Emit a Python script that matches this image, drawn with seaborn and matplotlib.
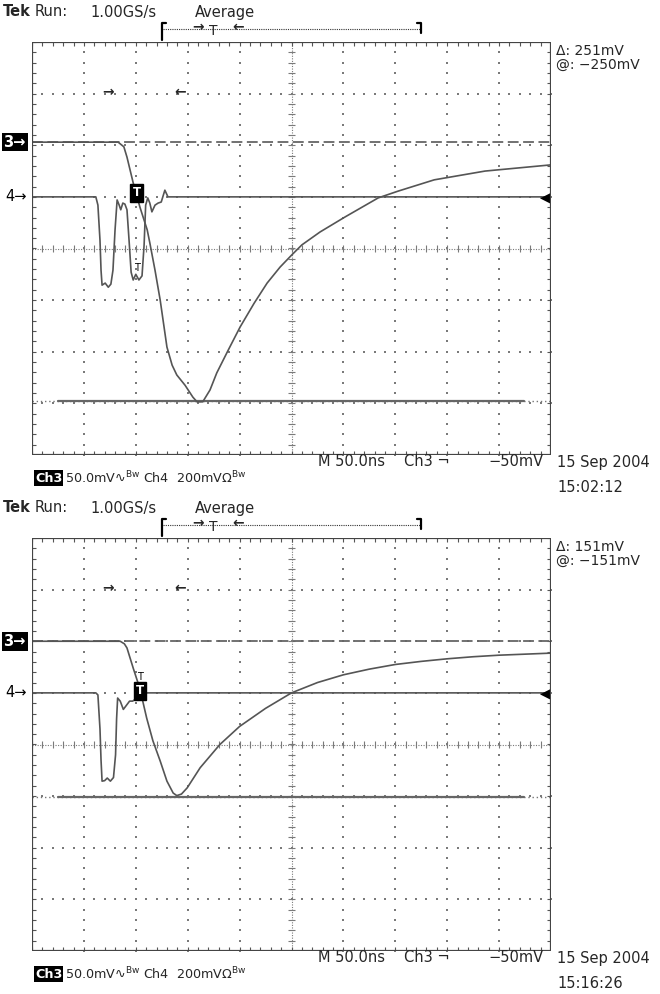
import numpy as np
import matplotlib
matplotlib.use("Agg")
import matplotlib.pyplot as plt
import seaborn as sns
from matplotlib.patches import Rectangle

# screen units are divisions: x -5..5 (50 ns/div), y -4..4
top_ch3_x = [-5.0, -3.34, -3.23, -3.17, -3.05, -2.92, -2.78, -2.73, -2.63, -2.53, -2.40, -2.30,
             -2.21, -2.05, -1.90, -1.82, -1.71, -1.57, -1.44, -1.22, -0.99, -0.72, -0.47, -0.22,
             0.0, 0.20, 0.55, 1.03, 1.67, 2.05, 2.75, 3.73, 5.0]
top_ch3_y = [2.06, 2.06, 1.97, 1.77, 1.27, 0.80, 0.36, 0.11, -0.42, -1.00, -1.91, -2.26,
             -2.45, -2.65, -2.88, -2.97, -2.97, -2.74, -2.41, -1.97, -1.52, -1.06, -0.67, -0.36,
             -0.13, 0.07, 0.32, 0.61, 0.98, 1.11, 1.33, 1.50, 1.62]
top_ch4_x = [-5.0, -3.77, -3.73, -3.69, -3.67, -3.65, -3.59, -3.53, -3.48, -3.44, -3.40, -3.36,
             -3.32, -3.29, -3.25, -3.21, -3.17, -3.13, -3.09, -3.05, -3.00, -2.94, -2.88, -2.84,
             -2.81, -2.77, -2.73, -2.69, -2.63, -2.57, -2.51, -2.44, -2.38, 5.0]
top_ch4_y = [1.0, 1.0, 0.84, 0.16, -0.42, -0.71, -0.67, -0.75, -0.69, -0.42, 0.36, 0.94,
             0.84, 0.75, 0.88, 0.86, 0.75, 0.16, -0.46, -0.61, -0.50, -0.61, -0.53, 0.07,
             0.84, 0.98, 0.88, 0.71, 0.84, 0.88, 0.90, 1.13, 1.0, 1.0]

bot_ch3_x = [-5.0, -3.30, -3.22, -3.17, -3.05, -2.95, -2.88, -2.79, -2.67, -2.53, -2.40, -2.28,
             -2.21, -2.12, -2.01, -1.76, -1.38, -1.0, -0.5, 0.0, 0.5, 1.0, 1.5, 2.0, 2.5, 3.0,
             3.5, 4.0, 4.5, 5.0]
bot_ch3_y = [2.0, 2.0, 1.95, 1.87, 1.48, 1.17, 0.90, 0.51, 0.07, -0.32, -0.71, -0.94,
             -0.99, -0.96, -0.84, -0.45, 0.0, 0.35, 0.70, 1.0, 1.20, 1.35, 1.46, 1.55, 1.61, 1.66,
             1.70, 1.73, 1.75, 1.77]
bot_ch4_x = [-5.0, -3.77, -3.73, -3.69, -3.67, -3.65, -3.60, -3.55, -3.49, -3.43, -3.39, -3.37,
             -3.35, -3.30, -3.24, -3.18, -3.12, -3.06, -2.98, -2.88, -2.78, 5.0]
bot_ch4_y = [1.0, 1.0, 0.96, 0.30, -0.30, -0.71, -0.70, -0.65, -0.71, -0.64, -0.20, 0.50,
             0.90, 0.84, 0.68, 0.76, 0.84, 0.84, 0.90, 0.95, 1.0, 1.0]

ch3_level = [2.06, 2.0]
ch4_level = [1.0, 1.0]
cursor_delta_mv = [251, 151]
cursor_at = ["@: \u2212250mV", "@: \u2212151mV"]
trig_box = [(-2.98, 1.08), (-2.92, 1.04)]
clock = ["15:02:12", "15:16:26"]
date = "15 Sep 2004"
volts_per_div = 50.0
ref_arrows = [(-3.54, 3.03), (-2.15, 3.03)]

sns.set_style("white")
plt.rcParams['font.family'] = ['DejaVu Sans']

fig = plt.figure(figsize=(6.6, 9.94), dpi=100)
fx = fig.add_axes([0, 0, 1, 1], zorder=5)
fx.set_xlim(0, 660)
fx.set_ylim(994, 0)
fx.axis('off')
fx.patch.set_alpha(0)

trace_c = '#555555'
grid_c = '#7a7a7a'
fs = 10.5
fs2 = 9.2


def graticule(ax):
    xs = np.arange(-5, 5.001, 0.2)
    ys = np.arange(-4, 4.001, 0.2)
    for k in range(-4, 5):
        if k != 0:
            ax.scatter(np.full(len(ys), k), ys, s=1.5, c=grid_c, marker='s', lw=0)
    for k in range(-3, 4):
        if k != 0:
            ax.scatter(xs, np.full(len(xs), k), s=1.5, c=grid_c, marker='s', lw=0)
    ax.plot([0, 0], [-4, 4], ls=(0, (1, 1.3)), lw=0.8, color=grid_c)
    ax.plot([-5, 5], [0, 0], ls=(0, (1, 1.3)), lw=0.8, color=grid_c)
    ax.hlines(ys, -0.07, 0.07, color=grid_c, lw=0.8)
    ax.vlines(xs, -0.07, 0.07, color=grid_c, lw=0.8)
    ax.vlines(xs, 3.92, 4, color='#555', lw=0.8)
    ax.vlines(xs, -4, -3.92, color='#555', lw=0.8)
    ax.hlines(ys, -5, -4.92, color='#555', lw=0.8)
    ax.hlines(ys, 4.92, 5, color='#555', lw=0.8)
    ax.add_patch(Rectangle((0, 0), 1, 1, transform=ax.transAxes, fill=False,
                           ec='#444', lw=1.6, zorder=6))


def panel(i, off, ch3x, ch3y, ch4x, ch4y):
    ax = fig.add_axes([32 / 660, 1 - (455 + off) / 994, 519 / 660, 413 / 994])
    ax.set_xlim(-5, 5)
    ax.set_ylim(-4, 4)
    graticule(ax)

    lvl = ch3_level[i]
    low = lvl - cursor_delta_mv[i] / volts_per_div
    ax.plot([-5, 5], [lvl, lvl], ls=(0, (6, 2.5)), lw=1.3, color='#666')
    ax.plot([-5, 5], [low, low], ls=(0, (1, 2)), lw=1.0, color='#777')
    ax.plot([-4.5, 4.48], [low, low], lw=1.6, color='#666')

    sns.lineplot(x=ch4x, y=ch4y, ax=ax, sort=False, estimator=None, color=trace_c, lw=1.2)
    sns.lineplot(x=ch3x, y=ch3y, ax=ax, sort=False, estimator=None, color=trace_c, lw=1.2)
    ax.axis('off')

    tx, ty = trig_box[i]
    ax.text(tx, ty, "T", color='white', fontsize=8.5, weight='bold', ha='center', va='center',
            bbox=dict(boxstyle='square,pad=0.2', fc='black', ec='black'), zorder=7)
    if i == 0:
        ax.text(tx, -0.38, "T", color='black', fontsize=7, ha='center', va='center')
    else:
        ax.text(tx, ty + 0.27, "T", color='black', fontsize=7, ha='center', va='center')

    ax.text(ref_arrows[0][0], ref_arrows[0][1], "\u2192", fontsize=10, weight='bold',
            ha='center', va='center')
    ax.text(ref_arrows[1][0], ref_arrows[1][1], "\u2190", fontsize=10, weight='bold',
            ha='center', va='center')

    ax.text(-5.12, lvl, "3\u2192", ha='right', va='center', color='white', fontsize=fs,
            weight='bold', bbox=dict(boxstyle='square,pad=0.12', fc='black', ec='none'),
            clip_on=False)
    ax.text(-5.1, ch4_level[i], "4\u2192", ha='right', va='center', color='black',
            fontsize=fs, clip_on=False)
    ax.text(5.0, ch4_level[i], "\u25C0", ha='right', va='center', color='black', fontsize=10)

    # header
    y = off + 12
    fx.text(3, y, "Tek", weight='bold', fontsize=fs, va='center')
    fx.text(35, y, "Run:", fontsize=fs, va='center')
    fx.text(90, y, "1.00GS/s", fontsize=fs, va='center')
    fx.text(195, y, "Average", fontsize=fs, va='center')
    fx.plot([163, 420], [off + 29, off + 29], ls=(0, (1, 1)), lw=0.8, color='#333')
    fx.plot([162, 162, 166], [off + 40, off + 23, off + 23], color='black', lw=1.6)
    fx.plot([417, 421, 421], [off + 23, off + 23, off + 33], color='black', lw=1.6)
    fx.text(198, off + 27, "\u2192", fontsize=10, weight='bold', ha='center', va='center')
    fx.text(213, off + 31, "T", fontsize=10, ha='center', va='center')
    fx.text(238, off + 27, "\u2190", fontsize=10, weight='bold', ha='center', va='center')

    fx.text(556, off + 51, "\u0394: %dmV" % cursor_delta_mv[i], fontsize=10, va='center')
    fx.text(556, off + 65, cursor_at[i], fontsize=10, va='center')

    # footer
    y = off + 461
    fx.text(318, y, "M 50.0ns", fontsize=fs, va='center')
    fx.text(404, y, "Ch3 \u00AC", fontsize=fs, va='center')
    fx.text(488, y, "\u221250mV", fontsize=fs, va='center')
    fx.text(557, y + 1, date, fontsize=fs, va='center')
    fx.text(557, off + 487, clock[i], fontsize=fs, va='center')
    y = off + 478
    fx.text(35, y, "Ch3", color='white', fontsize=fs2, weight='bold', va='center',
            bbox=dict(boxstyle='square,pad=0.08', fc='black', ec='none'))
    fx.text(65, y, "50.0mV\u223F$^{\\mathregular{Bw}}$", fontsize=fs2, va='center')
    fx.text(143, y, "Ch4", fontsize=fs2, va='center')
    fx.text(176, y, "200mV\u03A9$^{\\mathregular{Bw}}$", fontsize=fs2, va='center')


panel(0, 0, top_ch3_x, top_ch3_y, top_ch4_x, top_ch4_y)
panel(1, 496, bot_ch3_x, bot_ch3_y, bot_ch4_x, bot_ch4_y)

fig.savefig("out.png", dpi=100)
